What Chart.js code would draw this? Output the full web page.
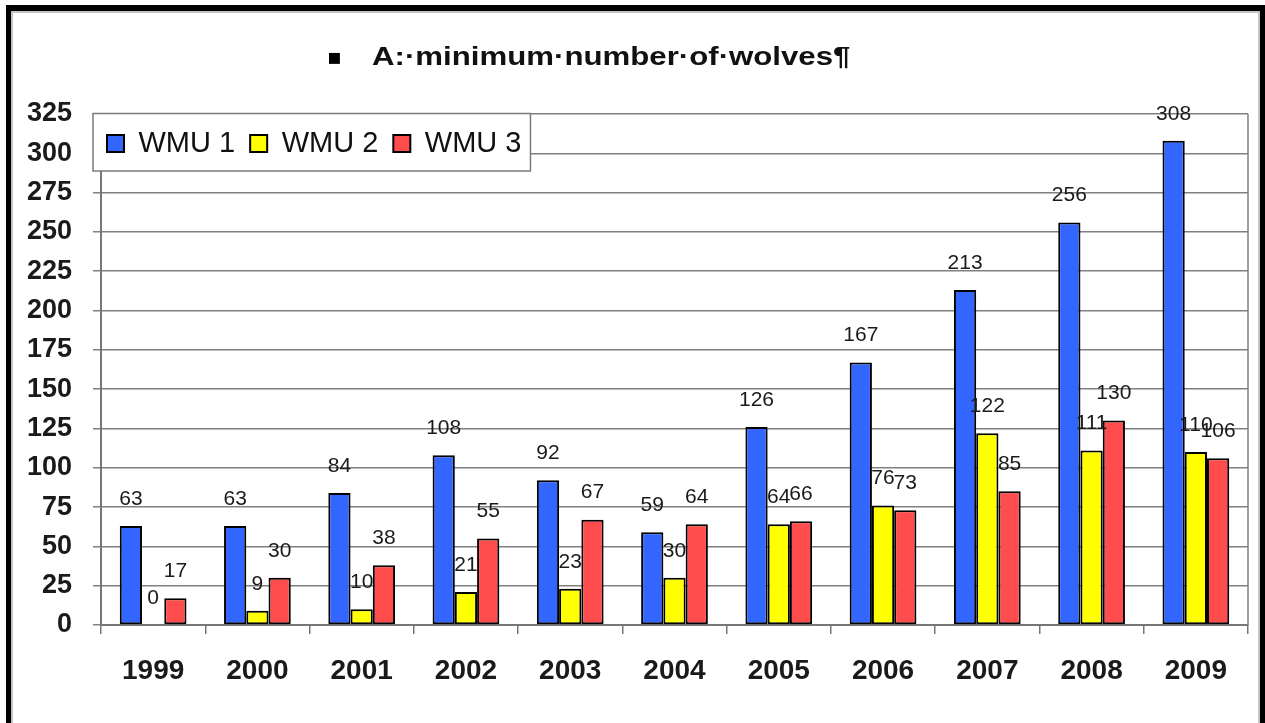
<!DOCTYPE html>
<html>
<head>
<meta charset="utf-8">
<script src="https://cdn.jsdelivr.net/npm/chart.js@4.4.1/dist/chart.umd.min.js"></script>
<style>
html,body{margin:0;padding:0;background:#fff;}
body{width:1265px;height:723px;position:relative;overflow:hidden;font-family:"Liberation Sans",Arial,sans-serif;}
#frameOuter{position:absolute;left:6px;top:5px;width:1259px;height:800px;border:5px solid #000;border-top-width:6px;border-bottom:none;box-sizing:border-box;}
#frameInner{position:absolute;left:11px;top:11px;width:1249px;height:800px;border:2px solid #c4c4c4;border-bottom:none;box-sizing:border-box;}
#title{position:absolute;left:0;top:0;width:1265px;height:100px;z-index:3;pointer-events:none;}
#bullet{position:absolute;left:327px;top:44px;font-family:"DejaVu Sans",sans-serif;font-size:22px;line-height:26px;color:#000;}
#ttext{position:absolute;left:372px;top:43px;font-weight:bold;font-size:26px;line-height:26px;color:#111;white-space:nowrap;transform:scaleX(1.2);transform-origin:0 0;}
#c{position:absolute;left:0;top:0;z-index:2;}
</style>
</head>
<body>
<div id="frameOuter"></div>
<div id="frameInner"></div>
<div id="title"><span id="bullet">▪</span><span id="ttext">A:·minimum·number·of·wolves¶</span></div>
<canvas id="c" width="1265" height="723"></canvas>
<script>
// ---- data ----
const years = ['1999','2000','2001','2002','2003','2004','2005','2006','2007','2008','2009'];
const wmu1 = [63, 63, 84, 108, 92, 59, 126, 167, 213, 256, 308];
const wmu2 = [0, 9, 10, 21, 23, 30, 64, 76, 122, 111, 110];
const wmu3 = [17, 30, 38, 55, 67, 64, 66, 73, 85, 130, 106];
const seriesNames = ['WMU 1', 'WMU 2', 'WMU 3'];
const yMin = 0, yMax = 325, yStep = 25;

const FONT = '"Liberation Sans", Arial, sans-serif';
const colors = ['#3366FF', '#FFFF00', '#FF4D4D'];

function drawLegendBox(lg) {
  const ctx = lg.ctx;
  const hb = lg.legendHitBoxes;
  if (!hb || !hb.length) return;
  const last = hb[hb.length - 1];
  const x0 = 93, y0 = lg.top - 0.5;
  const x1 = last.left + last.width + 9;
  const y1 = lg.top + 57;
  ctx.save();
  ctx.fillStyle = '#ffffff';
  ctx.fillRect(x0, y0, x1 - x0, y1 - y0);
  ctx.strokeStyle = '#7a7a7a';
  ctx.lineWidth = 1.5;
  ctx.strokeRect(x0, y0, x1 - x0, y1 - y0);
  ctx.restore();
}

const overlay = {
  id: 'overlay',
  afterLayout(chart) {
    const lg = chart.legend;
    if (!lg) return;
    const h = lg.height;
    lg.left = 92;
    lg.top = chart.chartArea.top;
    lg.bottom = lg.top + h;
    if (!lg._boxWrapped) {
      const orig = lg.draw;
      lg.draw = function (ca) { drawLegendBox(this); orig.call(this, ca); };
      lg._boxWrapped = true;
    }
  },
  beforeDatasetsDraw(chart) {
    const {ctx, chartArea} = chart;
    ctx.save();
    ctx.strokeStyle = '#808080';
    ctx.lineWidth = 1.5;
    ctx.beginPath();
    ctx.moveTo(chartArea.right, chartArea.top);
    ctx.lineTo(chartArea.right, chartArea.bottom);
    ctx.stroke();
    ctx.restore();
  },
  afterDatasetsDraw(chart) {
    const ctx = chart.ctx;
    ctx.save();
    ctx.font = '21px ' + FONT;
    ctx.fillStyle = '#1a1a1a';
    ctx.textAlign = 'center';
    ctx.textBaseline = 'middle';
    chart.data.datasets.forEach((ds, i) => {
      const meta = chart.getDatasetMeta(i);
      meta.data.forEach((bar, j) => {
        ctx.fillText(String(ds.data[j]), bar.x, bar.y - 27);
      });
    });
    ctx.restore();
  }
};

const seriesData = [wmu1, wmu2, wmu3];
new Chart(document.getElementById('c'), {
  type: 'bar',
  data: {
    labels: years,
    datasets: seriesData.map((d, i) => ({
      label: seriesNames[i],
      data: d,
      backgroundColor: colors[i],
      borderColor: '#000',
      borderWidth: 2,
      borderSkipped: false,
      categoryPercentage: 0.64,
      barPercentage: 1.0
    }))
  },
  options: {
    responsive: false,
    animation: false,
    devicePixelRatio: 1,
    layout: {padding: {top: 60, right: 17, left: 0, bottom: 0}},
    plugins: {
      legend: {
        position: 'top',
        align: 'start',
        labels: {
          font: {family: FONT, size: 29},
          color: '#111',
          boxWidth: 17,
          boxHeight: 17,
          padding: 15
        }
      },
      title: {display: false},
      tooltip: {enabled: false}
    },
    scales: {
      x: {
        grid: {display: true, drawOnChartArea: false, drawTicks: true, tickLength: 9, color: '#777', lineWidth: 1.5, offset: true},
        border: {display: true, color: '#777', width: 2},
        ticks: {font: {family: FONT, size: 28, weight: 'bold'}, color: '#1a1a1a', padding: 20, maxRotation: 0, autoSkip: false},
        afterFit(s) { s.height = 98; }
      },
      y: {
        min: yMin, max: yMax,
        ticks: {stepSize: yStep, font: {family: FONT, size: 27, weight: 'bold'}, color: '#1a1a1a', padding: 21},
        grid: {color: '#808080', lineWidth: 1.5, tickLength: 8},
        border: {display: true, color: '#777', width: 2, z: -1},
        afterFit(s) { s.width = 101; }
      }
    }
  },
  plugins: [overlay]
});
</script>
</body>
</html>
